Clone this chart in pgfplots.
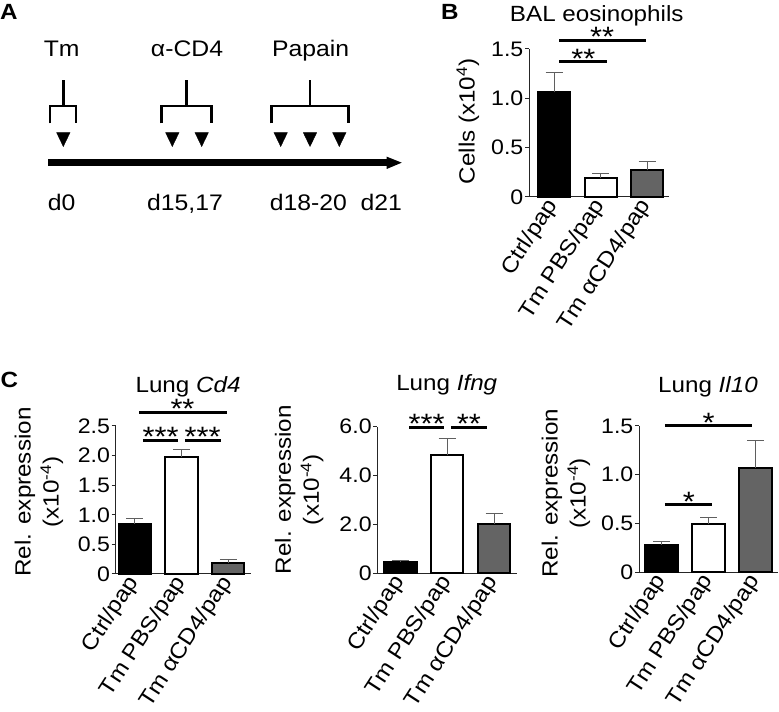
\documentclass[border=0pt]{standalone}
\usepackage{fontspec}
\setmainfont{Liberation Sans}[FakeStretch=1.1]
\usepackage{pgfplots}
\pgfplotsset{compat=1.18}
\definecolor{barg}{RGB}{100,100,100}
\definecolor{errg}{RGB}{95,95,95}
\newcommand{\tkfont}{\fontsize{21bp}{25bp}\selectfont}
\newcommand{\xtfont}{\fontsize{22bp}{25bp}\selectfont}
\newcommand{\lbfont}{\fontsize{22bp}{28bp}\selectfont}
\newcommand{\stfont}{\fontsize{28bp}{28bp}\selectfont}
\pgfplotsset{
 barpanel/.style={
  scale only axis, clip=false,
  axis x line=bottom, axis y line=left,
  axis line style={line width=1bp, black!85, -},
  xtick={0,1,2}, xticklabels={Ctrl/pap, Tm PBS/pap, Tm αCD4/pap},
  x tick style={draw=none},
  y tick style={line width=1bp, black!85},
  tick align=outside, major tick length=4bp,
  /pgf/number format/assume math mode=true,
  tick label style={font=\tkfont},
  xticklabel style={font=\xtfont, rotate=57, anchor=east, inner sep=1bp},
  yticklabel style={inner sep=1.5bp},
  label style={font=\lbfont},
  every axis title shift=0pt,
  title style={font=\lbfont, anchor=center},
  ymin=0,
 },
 bars/.style={ybar, bar width=0.69, bar shift=0pt, draw=black, line width=2bp,
   error bars/y dir=plus, error bars/y explicit,
   error bars/error bar style={line width=1bp, errg},
   error bars/error mark options={rotate=90, line width=1bp, errg, mark size=8.5bp}},
}
\tikzset{
 sig/.style={line width=3bp},
 star/.style={anchor=base, yshift=-6.5bp, font=\stfont, inner sep=0pt},
}
\begin{document}
\begin{tikzpicture}[x=1bp, y=1bp]
\path[use as bounding box] (0,0) rectangle (779,712);

% ---------- Panel A (schematic) ----------
\begin{axis}[hide axis, scale only axis, width=779bp, height=712bp,
  xmin=0, xmax=779, ymin=0, ymax=712, at={(0bp,0bp)}, anchor=south west, clip=false]
\fill (axis cs:47.7,546) rectangle (axis cs:387,552.7);
\fill (axis cs:386.7,555.3) -- (axis cs:386.7,543) -- (axis cs:401.7,549.3) -- cycle;
\draw[line width=2.7bp, line join=miter] (axis cs:50,588.7) -- (axis cs:50,606) -- (axis cs:76,606) -- (axis cs:76,588.7);
\draw[line width=2.7bp] (axis cs:63.3,606) -- (axis cs:63.3,632);
\draw[line width=2.7bp, line join=miter] (axis cs:161.7,588.7) -- (axis cs:161.7,606) -- (axis cs:211.7,606) -- (axis cs:211.7,588.7);
\draw[line width=2.7bp] (axis cs:186.7,606) -- (axis cs:186.7,632);
\draw[line width=2.7bp, line join=miter] (axis cs:271.7,588.7) -- (axis cs:271.7,606) -- (axis cs:348.3,606) -- (axis cs:348.3,588.7);
\draw[line width=2.7bp] (axis cs:310,606) -- (axis cs:310,632);
\addplot[only marks, mark=triangle*, mark size=7.7bp, mark options={rotate=180, yscale=1.2, fill=black, draw=black}]
  coordinates {(63.3,574.7) (172.3,574.7) (201.7,574.7) (280.7,574.7) (310,574.7) (339.3,574.7)};
\begin{scope}[every node/.style={anchor=base, inner sep=0pt, font=\fontsize{22.5bp}{26bp}\selectfont}]
\node at (axis cs:61.7,655.3) {Tm};
\node at (axis cs:187,655.3) {α-CD4};
\node at (axis cs:310.7,655.3) {Papain};
\node at (axis cs:61.7,501.3) {d0};
\node at (axis cs:185,501.3) {d15,17};
\node at (axis cs:308.3,501.3) {d18-20};
\node at (axis cs:381.3,501.3) {d21};
\end{scope}
\begin{scope}[every node/.style={anchor=base west, inner sep=0pt, font=\bfseries\fontsize{22bp}{26bp}\selectfont}]
\node at (axis cs:0,692) {A};
\node at (axis cs:441,692) {B};
\node at (axis cs:0.5,324) {C};
\end{scope}
\end{axis}

% ---------- Panel B ----------
\begin{axis}[barpanel, at={(529bp,515bp)}, anchor=south west, width=140bp, height=148bp,
  xmin=-0.54, xmax=2.47, ymax=1.5, ytick={0,0.5,1,1.5}, yticklabels={0,0.5,1.0,1.5},
  ylabel={Cells (x10\textsuperscript{4})},
  ylabel style={at={(axis description cs:-0.436,0.51)}, anchor=center},
  title={BAL eosinophils}, title style={at={(axis description cs:0.484,1.225)}}]
\addplot[bars, fill=black] coordinates {(0,1.06) +- (0,0.20)};
\addplot[bars, fill=white] coordinates {(1,0.19) +- (0,0.05)};
\addplot[bars, fill=barg] coordinates {(2,0.27) +- (0,0.085)};
\draw[sig] (axis cs:0.11,1.37) -- (axis cs:1.14,1.37);
\node[star] at (axis cs:0.63,1.37) {**};
\draw[sig] (axis cs:0.11,1.59) -- (axis cs:1.98,1.59);
\node[star] at (axis cs:1.03,1.59) {**};
\end{axis}

% ---------- Panel C1: Cd4 ----------
\begin{axis}[barpanel, at={(115.7bp,138bp)}, anchor=south west, width=135bp, height=148bp,
  xmin=-0.41, xmax=2.48, ymax=2.5, ytick={0,0.5,1,1.5,2,2.5}, yticklabels={0,0.5,1.0,1.5,2.0,2.5},
  ylabel={Rel. expression\\(x10\textsuperscript{-4})},
  ylabel style={align=center, at={(axis description cs:-0.568,0.554)}, anchor=center},
  title={Lung \textit{Cd4}}, title style={at={(axis description cs:0.536,1.264)}}]
\addplot[bars, fill=black] coordinates {(0,0.845) +- (0,0.085)};
\addplot[bars, fill=white] coordinates {(1,1.97) +- (0,0.14)};
\addplot[bars, fill=barg] coordinates {(2,0.19) +- (0,0.05)};
\draw[sig] (axis cs:0.17,2.26) -- (axis cs:0.92,2.26);
\node[star] at (axis cs:0.55,2.26) {***};
\draw[sig] (axis cs:1.07,2.26) -- (axis cs:1.84,2.26);
\node[star] at (axis cs:1.45,2.26) {***};
\draw[sig] (axis cs:0.09,2.73) -- (axis cs:1.97,2.73);
\node[star] at (axis cs:1.02,2.73) {**};
\end{axis}

% ---------- Panel C2: Ifng ----------
\begin{axis}[barpanel, at={(377.3bp,138.7bp)}, anchor=south west, width=139.4bp, height=146.7bp,
  xmin=-0.49, xmax=2.48, ymax=6, ytick={0,2,4,6}, yticklabels={0,2.0,4.0,6.0},
  ylabel={Rel. expression\\(x10\textsuperscript{-4})},
  ylabel style={align=center, at={(axis description cs:-0.56,0.57)}, anchor=center},
  title={Lung \textit{Ifng}}, title style={at={(axis description cs:0.498,1.284)}}]
\addplot[bars, fill=black] coordinates {(0,0.48) +- (0,0.03)};
\addplot[bars, fill=white] coordinates {(1,4.82) +- (0,0.71)};
\addplot[bars, fill=barg] coordinates {(2,2.03) +- (0,0.40)};
\draw[sig] (axis cs:0.19,5.97) -- (axis cs:0.93,5.97);
\node[star] at (axis cs:0.56,5.97) {***};
\draw[sig] (axis cs:1.09,5.97) -- (axis cs:1.84,5.97);
\node[star] at (axis cs:1.46,5.97) {**};
\end{axis}

% ---------- Panel C3: Il10 ----------
\begin{axis}[barpanel, at={(639bp,139.7bp)}, anchor=south west, width=139.3bp, height=146.3bp,
  xmin=-0.48, xmax=2.48, ymax=1.5, ytick={0,0.5,1,1.5}, yticklabels={0,0.5,1.0,1.5},
  ylabel={Rel. expression\\(x10\textsuperscript{-4})},
  ylabel style={align=center, at={(axis description cs:-0.524,0.54)}, anchor=center},
  title={Lung \textit{Il10}}, title style={at={(axis description cs:0.495,1.267)}}]
\addplot[bars, fill=black] coordinates {(0,0.28) +- (0,0.04)};
\addplot[bars, fill=white] coordinates {(1,0.495) +- (0,0.065)};
\addplot[bars, fill=barg] coordinates {(2,1.07) +- (0,0.28)};
\draw[sig] (axis cs:0.07,0.69) -- (axis cs:1.08,0.69);
\node[star] at (axis cs:0.58,0.69) {*};
\draw[sig] (axis cs:0.07,1.5) -- (axis cs:1.92,1.5);
\node[star] at (axis cs:1.0,1.5) {*};
\end{axis}
\end{tikzpicture}
\end{document}
